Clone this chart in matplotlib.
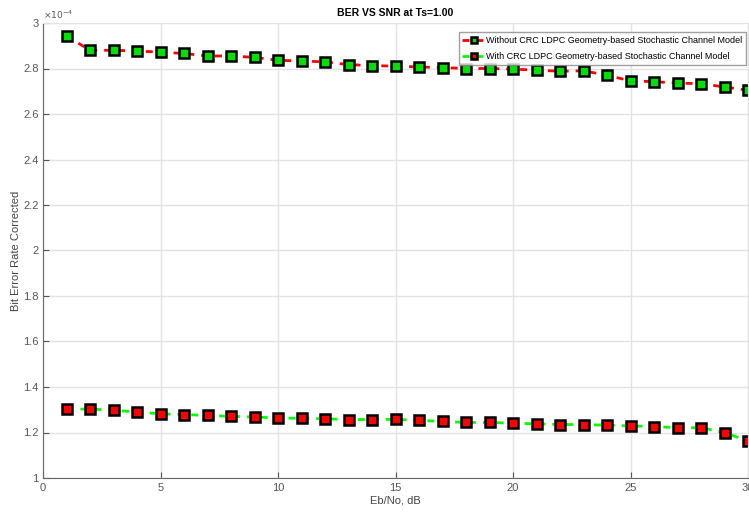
import matplotlib.pyplot as plt
import matplotlib.ticker as mticker

plt.rcParams['font.family'] = ['Liberation Sans', 'DejaVu Sans']

ebno = list(range(1, 31))
# BER values in units of 1e-4
ber_without_crc = [2.943, 2.880, 2.880, 2.877, 2.872, 2.866, 2.855, 2.855, 2.849, 2.836,
                   2.833, 2.829, 2.817, 2.813, 2.810, 2.807, 2.804, 2.800, 2.800, 2.797,
                   2.793, 2.788, 2.790, 2.770, 2.746, 2.742, 2.736, 2.733, 2.719, 2.704]
ber_with_crc = [1.303, 1.303, 1.298, 1.290, 1.282, 1.279, 1.275, 1.271, 1.268, 1.264,
                1.262, 1.260, 1.257, 1.257, 1.258, 1.253, 1.249, 1.244, 1.244, 1.241,
                1.238, 1.235, 1.235, 1.232, 1.229, 1.226, 1.221, 1.221, 1.200, 1.162]
label_without = 'Without CRC LDPC Geometry-based Stochastic Channel Model'
label_with = 'With CRC LDPC Geometry-based Stochastic Channel Model'

fig = plt.figure(figsize=(7.49, 5.15), dpi=100)
ax = fig.add_axes([43/749, 1 - 478/515, 705/749, 455/515])

ax.plot(ebno, ber_without_crc, color='red', linestyle='--', linewidth=2,
        marker='s', markersize=6.5, markerfacecolor='#00e000', markeredgecolor='black',
        markeredgewidth=1.8, dashes=(2.5, 2.5), label=label_without)
ax.plot(ebno, ber_with_crc, color='#00ff00', linestyle='--', linewidth=2,
        marker='s', markersize=6.5, markerfacecolor='#ff0000', markeredgecolor='black',
        markeredgewidth=1.8, dashes=(2.5, 2.5), label=label_with)

ax.set_xlim(0, 30)
ax.set_ylim(1, 3)
ax.set_xticks(range(0, 31, 5))
ax.set_yticks([1, 1.2, 1.4, 1.6, 1.8, 2, 2.2, 2.4, 2.6, 2.8, 3])
ax.yaxis.set_major_formatter(mticker.FuncFormatter(lambda v, p: f'{v:g}'))
ax.grid(True, color='#e3e3e3', linewidth=1)
ax.tick_params(direction='in', colors='#555555', labelsize=8, length=4)
ax.tick_params(axis='y', pad=3)
for s in ['left', 'bottom']:
    ax.spines[s].set_color('#666666')
for s in ['top', 'right']:
    ax.spines[s].set_color('#e3e3e3')

ax.set_title('BER VS SNR at Ts=1.00', fontsize=7.5, fontweight='bold', pad=5)
ax.set_xlabel('Eb/No, dB', fontsize=8, color='#444444', labelpad=2)
ax.set_ylabel('Bit Error Rate Corrected', fontsize=8, color='#444444')
ax.yaxis.set_label_coords(-0.031, 0.5)
ax.text(0.0, 1.005, r'$\times10^{-4}$', transform=ax.transAxes, fontsize=6.5,
        color='#555555', va='bottom', ha='left')

leg = ax.legend(loc='upper right', fontsize=6.5, frameon=True, fancybox=False,
                borderpad=0.4, handlelength=2.6, handletextpad=0.05, labelspacing=0.8,
                borderaxespad=0.0, bbox_to_anchor=(0.997, 0.98))
leg.get_frame().set_edgecolor('#888888')
leg.get_frame().set_linewidth(1)
for h in leg.legend_handles:
    h.set_markersize(5)

fig.savefig('out.png', dpi=100)
